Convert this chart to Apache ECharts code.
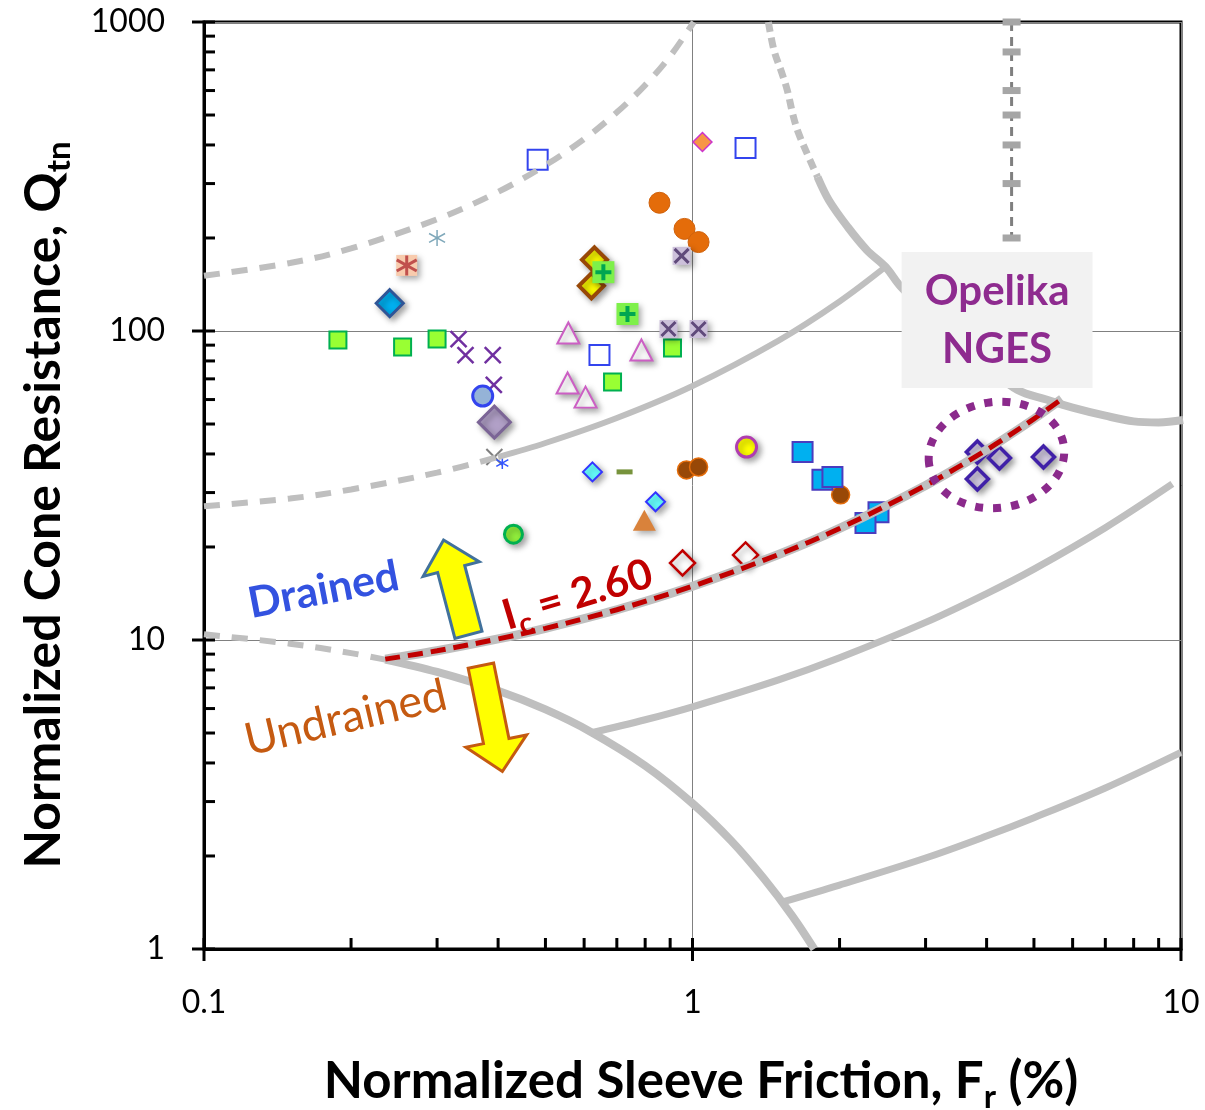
<!DOCTYPE html>
<html>
<head>
<meta charset="utf-8">
<script src="https://cdn.jsdelivr.net/npm/echarts@6/dist/echarts.min.js"></script>
<style>
  html, body { margin: 0; padding: 0; background: #fff; }
  #chart { width: 1205px; height: 1110px; }
</style>
</head>
<body>
<div id="chart"></div>
<script>
// ---- Axis ticks (log scales) ----
const xMajorTicks = [0.1, 1, 10];
const xMinorTicks = [0.2, 0.3, 0.4, 0.5, 0.6, 0.7, 0.8, 0.9, 2, 3, 4, 5, 6, 7, 8, 9];
const yMajorTicks = [1, 10, 100, 1000];
const yMinorTicks = [2, 3, 4, 5, 6, 7, 8, 9, 20, 30, 40, 50, 60, 70, 80, 90,
                     200, 300, 400, 500, 600, 700, 800, 900];

// ---- Soil behaviour type boundaries, [Fr (%), Qtn] ----
const ic131 = [[0.1, 151], [0.15, 166], [0.2, 185], [0.3, 230], [0.4, 282], [0.5, 344],
               [0.6, 418], [0.7, 510], [0.8, 625], [0.9, 775], [1.006, 1000]];
const ic205Dashed = [[0.1, 27.1], [0.15, 28.7], [0.2, 30.7], [0.3, 34.8], [0.4, 39.1]];
const ic205Solid = [[0.4, 39.1], [0.5, 43.4], [0.7, 52.3], [1, 66.4], [1.5, 93.1],
                    [2, 124.6], [2.49, 161.8]];
const zone1Dashed = [[0.1, 10.43], [0.15, 9.73], [0.2, 9.07], [0.235, 8.64]];
const zone1Solid = [[0.235, 8.64], [0.3, 7.88], [0.4, 6.85], [0.5, 5.96], [0.618, 5.05],
                    [0.8, 3.92], [1.0, 2.96], [1.2, 2.24], [1.4, 1.69], [1.6, 1.28], [1.775, 1.0]];
const ic260 = [[0.235, 8.67], [0.3, 9.23], [0.4, 10.08], [0.5, 10.91], [0.7, 12.53], [1, 14.93],
               [1.5, 18.91], [2, 22.97], [3, 31.64], [4, 41.24], [5, 51.95], [5.7, 60.27]];
const ic295 = [[0.618, 5.0], [0.8, 5.52], [1, 6.08], [1.5, 7.43], [2, 8.76], [3, 11.4],
               [4, 14.13], [5, 16.96], [7, 23.09], [9.6, 32.0]];
const ic360 = [[1.53, 1.42], [2, 1.61], [3, 1.97], [4, 2.32], [5, 2.66], [7, 3.32], [10, 4.33]];
const zone8Dashed = [[1.43, 1000], [1.468, 811], [1.521, 689], [1.563, 602], [1.606, 500],
                     [1.648, 437], [1.739, 358], [1.803, 315]];
const zone8Solid = [[1.803, 315], [1.902, 265], [2.079, 217], [2.273, 183], [2.486, 161],
                    [2.67, 139], [3.3, 100], [4.0, 77], [4.63, 64.4], [5.3, 60], [6.0, 56.5],
                    [7.0, 53.2], [8.0, 51.0], [9.0, 50.6], [10.1, 51.5]];
const zone9Divider = [[4.5, 1000], [4.5, 800], [4.5, 600], [4.5, 500], [4.5, 400],
                      [4.5, 300], [4.5, 200]];

// ---- Site data, [Fr (%), Qtn] ----
const tealStar = [[0.30, 200]];
const peachStar = [[0.26, 163]];
const blueDiamondBig = [[0.24, 123]];
const limeSquares = [[0.188, 93.5], [0.255, 88.8], [0.30, 94.2], [0.686, 68.4], [0.91, 88.1]];
const purpleX = [[0.332, 94.2], [0.343, 83.6], [0.39, 83.6], [0.392, 66.9]];
const blueRingCircle = [[0.372, 61.6]];
const mauveDiamond = [[0.393, 50.7]];
const grayX = [[0.393, 39.1]];
const blueStar = [[0.408, 37.4]];
const limeCircle = [[0.43, 22.0]];
const blueOpenSquares = [[0.482, 358], [0.645, 83.6], [1.284, 391]];
const pinkOpenTriangles = [[0.557, 98.5], [0.555, 67.9], [0.604, 61.1], [0.786, 86.8]];
const yellowDiamonds = [[0.63, 170], [0.621, 140]];
const limePlus = [[0.657, 155], [0.736, 113.5]];
const orangeCircles = [[0.856, 260], [0.963, 214], [1.029, 194]];
const lavenderX = [[0.95, 175], [0.893, 101.5], [1.029, 101.5]];
const orangeDiamond = [[1.048, 409]];
const cyanDiamonds = [[0.624, 35.0], [0.84, 28.0]];
const oliveDash = [[0.726, 35.0]];
const orangeTriangle = [[0.797, 24.4]];
const brownCircles = [[0.972, 35.5], [1.029, 36.3], [2.01, 29.5]];
const yellowRingCircle = [[1.29, 42.1]];
const cyanSquares = [[1.68, 40.6], [1.845, 33.0], [1.934, 33.7], [2.403, 25.9], [2.26, 23.9]];
const redOpenDiamonds = [[0.954, 17.75], [1.284, 18.85]];
const opelikaNGES = [[3.83, 40.6], [4.25, 38.8], [5.23, 39.1], [3.83, 33.2]];

// ---- Styling helpers ----
const FONT = 'Lato, "Open Sans", "Noto Sans", sans-serif';
const GRAY = '#bfbfbf';
const SHADOW = { shadowBlur: 6, shadowOffsetX: 3, shadowOffsetY: 3, shadowColor: 'rgba(0,0,0,0.35)' };
const X_PATH = 'path://M0,0L10,10M10,0L0,10';
const STAR_PATH = 'path://M5,0L5,10M0.6,2.2L9.4,7.8M0.6,7.8L9.4,2.2';
const PLUS_PATH = 'path://M5,0L5,10M0,5L10,5';
const CLEAR = 'rgba(0,0,0,0)';

function pts(name, data, symbol, symbolSize, style, shadow) {
  return {
    name, type: 'scatter', data, symbol, symbolSize, silent: true, z: 3,
    itemStyle: Object.assign({ opacity: 1 }, style, shadow ? SHADOW : {})
  };
}
function curve(name, data, color, width, dash, z) {
  return {
    name, type: 'line', data, showSymbol: false, symbol: 'none', smooth: 0.35,
    silent: true, z: z || 4,
    lineStyle: { color, width, type: dash || 'solid', cap: 'butt' }
  };
}
function tickItem(horizontal) {
  return function (params, api) {
    const p = api.coord([api.value(0), api.value(1)]);
    const major = api.value(2) === 1;
    const shape = horizontal
      ? { x1: p[0], y1: p[1] + (major ? 12 : 0), x2: p[0], y2: p[1] - 11 }
      : { x1: p[0] - (major ? 12 : 0), y1: p[1], x2: p[0] + 11, y2: p[1] };
    return { type: 'line', shape, style: { stroke: '#000', lineWidth: 3 } };
  };
}

const chart = echarts.init(document.getElementById('chart'), null, { renderer: 'canvas' });

const option = {
  backgroundColor: '#fff',
  animation: false,
  grid: { left: 204, top: 22, width: 977, height: 927, show: true,
          borderColor: '#000', borderWidth: 3, backgroundColor: 'transparent' },
  xAxis: {
    type: 'log', logBase: 10, min: 0.1, max: 10,
    axisLine: { show: true, onZero: false, lineStyle: { color: '#000', width: 3 } },
    axisTick: { show: false },
    axisLabel: { fontFamily: FONT, fontSize: 32, color: '#000', margin: 38,
                 formatter: v => String(Number(Number(v).toPrecision(3))) },
    splitLine: { show: true, lineStyle: { color: '#808080', width: 1 } }
  },
  yAxis: {
    type: 'log', logBase: 10, min: 1, max: 1000,
    axisLine: { show: true, onZero: false, lineStyle: { color: '#000', width: 3 } },
    axisTick: { show: false },
    axisLabel: { fontFamily: FONT, fontSize: 32, color: '#000', margin: 39,
                 formatter: v => String(Number(Number(v).toPrecision(3))) },
    splitLine: { show: true, lineStyle: { color: '#808080', width: 1 } }
  },
  series: [
    // site data
    pts('tealStar', tealStar, STAR_PATH, 16, { color: CLEAR, borderColor: '#7fa8ba', borderWidth: 1.5 }),
    pts('peachStarBack', peachStar, 'rect', 21, { color: '#f8cbad' }, true),
    pts('peachStar', peachStar, STAR_PATH, 20, { color: CLEAR, borderColor: '#c0504d', borderWidth: 3 }),
    pts('blueDiamondBig', blueDiamondBig, 'diamond', 27, { color: '#00b0f0', borderColor: '#2f5597', borderWidth: 3 }, true),
    pts('limeSquares', limeSquares, 'rect', 17, { color: '#99ff33', borderColor: '#00b050', borderWidth: 2 }),
    pts('purpleX', purpleX, X_PATH, 16, { color: CLEAR, borderColor: '#7030a0', borderWidth: 2.5 }),
    pts('blueRingCircle', blueRingCircle, 'circle', 20, { color: '#95b3d7', borderColor: '#3344ee', borderWidth: 3 }),
    pts('mauveDiamond', mauveDiamond, 'diamond', 32, { color: '#b1a0c7', borderColor: '#7b6496', borderWidth: 3 }, true),
    pts('grayX', grayX, X_PATH, 16, { color: CLEAR, borderColor: '#7f7f7f', borderWidth: 2 }),
    pts('blueStar', blueStar, STAR_PATH, 12, { color: CLEAR, borderColor: '#3355ff', borderWidth: 1.5 }),
    pts('limeCircle', limeCircle, 'circle', 18, { color: '#92f03c', borderColor: '#00b050', borderWidth: 3 }, true),
    pts('blueOpenSquares', blueOpenSquares, 'rect', 20, { color: '#fff', borderColor: '#3344ee', borderWidth: 2 }),
    pts('pinkOpenTriangles', pinkOpenTriangles, 'triangle', [22, 21], { color: '#fff', borderColor: '#cc5fc4', borderWidth: 2 }, true),
    pts('yellowDiamonds', yellowDiamonds, 'diamond', 25, { color: '#ffff00', borderColor: '#984807', borderWidth: 4 }, true),
    pts('limePlusBack', limePlus, 'rect', 22, { color: '#7ef04a' }, true),
    pts('limePlus', limePlus, PLUS_PATH, 16, { color: CLEAR, borderColor: '#00a651', borderWidth: 4 }),
    pts('orangeCircles', orangeCircles, 'circle', 21, { color: '#e46c0a', borderColor: '#d0620c', borderWidth: 1 }),
    pts('lavenderXBack', lavenderX, 'rect', 18, { color: '#ccc0da' }, true),
    pts('lavenderX', lavenderX, X_PATH, 14, { color: CLEAR, borderColor: '#604a7b', borderWidth: 3 }),
    pts('orangeDiamond', orangeDiamond, 'diamond', 19, { color: '#f79646', borderColor: '#cc33cc', borderWidth: 1.5 }),
    pts('cyanDiamonds', cyanDiamonds, 'diamond', 19, { color: '#66ffff', borderColor: '#3333ff', borderWidth: 2 }, true),
    pts('oliveDash', oliveDash, 'rect', [16, 5], { color: '#77933c' }),
    pts('orangeTriangle', orangeTriangle, 'triangle', [23, 21], { color: '#d9823b' }, true),
    pts('brownCircles', brownCircles, 'circle', 18, { color: '#984807', borderColor: '#e46c0a', borderWidth: 1.5 }),
    pts('yellowRingCircle', yellowRingCircle, 'circle', 20, { color: '#ffff00', borderColor: '#b03cb0', borderWidth: 3 }, true),
    pts('cyanSquares', cyanSquares, 'rect', 20, { color: '#00b0f0', borderColor: '#4a3cbf', borderWidth: 2 }),
    pts('redOpenDiamonds', redOpenDiamonds, 'diamond', 25, { color: '#fff', borderColor: '#c00000', borderWidth: 2.5 }, true),
    pts('opelikaNGES', opelikaNGES, 'diamond', 22, { color: '#d4cbe4', borderColor: '#4020a8', borderWidth: 3.5 }, true),

    // boundaries
    curve('ic131', ic131, GRAY, 6, [16, 12]),
    curve('ic205Dashed', ic205Dashed, GRAY, 6, [16, 12]),
    curve('ic205Solid', ic205Solid, GRAY, 6),
    curve('zone1Dashed', zone1Dashed, GRAY, 6, [16, 12]),
    curve('zone1Solid', zone1Solid, GRAY, 8),
    curve('ic260Gray', ic260, GRAY, 9),
    curve('ic295', ic295, GRAY, 7),
    curve('ic360', ic360, GRAY, 7),
    curve('zone8Dashed', zone8Dashed, GRAY, 7, [10, 6]),
    curve('zone8Solid', zone8Solid, GRAY, 8),
    {
      name: 'zone9Divider', type: 'line', data: zone9Divider, silent: true, z: 5,
      symbol: 'rect', symbolSize: [18, 7], showSymbol: true,
      itemStyle: { color: '#a6a6a6', opacity: 1 },
      lineStyle: { color: '#7f7f7f', width: 3, type: [9, 6] }
    },
    curve('ic260', ic260, '#c00000', 5, [15, 8], 6),

    // axis ticks
    {
      type: 'custom', coordinateSystem: 'cartesian2d', silent: true, clip: false, z: 10,
      data: xMajorTicks.map(v => [v, 1, 1]).concat(xMinorTicks.map(v => [v, 1, 0])),
      renderItem: tickItem(true)
    },
    {
      type: 'custom', coordinateSystem: 'cartesian2d', silent: true, clip: false, z: 10,
      data: yMajorTicks.map(v => [0.1, v, 1]).concat(yMinorTicks.map(v => [0.1, v, 0])),
      renderItem: tickItem(false)
    }
  ]
};
chart.setOption(option);

// ---- Annotations, anchored in data space ----
const at = (f, q) => chart.convertToPixel({ xAxisIndex: 0, yAxisIndex: 0 }, [f, q]);
const boxTL = at(2.68, 180), boxBR = at(6.59, 65.4);
const ell = at(4.19, 39.7);
const upA = at(0.328, 14.8), downA = at(0.388, 5.57);
const drainedP = at(0.1757, 14.5), undrainedP = at(0.195, 5.59), icP = at(0.5815, 14.0);

chart.setOption({
  graphic: [
    {
      type: 'rect', z: 20,
      shape: { x: boxTL[0], y: boxTL[1], width: boxBR[0] - boxTL[0], height: boxBR[1] - boxTL[1] },
      style: { fill: '#f2f2f2' }
    },
    {
      type: 'text', z: 21, x: (boxTL[0] + boxBR[0]) / 2, y: (boxTL[1] + boxBR[1]) / 2,
      style: { text: 'Opelika\nNGES', fill: '#8e2b8f', fontFamily: FONT, fontWeight: 'bold',
               fontSize: 42, lineHeight: 58, align: 'center', verticalAlign: 'middle' }
    },
    {
      type: 'ellipse', z: 22, x: ell[0], y: ell[1], rotation: 0.13,
      shape: { cx: 0, cy: 0, rx: 68, ry: 53 },
      style: { fill: 'none', stroke: '#8b2a8c', lineWidth: 8, lineDash: [8, 10] }
    },
    {
      type: 'polygon', z: 20, x: upA[0], y: upA[1], rotation: 0.257,
      shape: { points: [[0, -49], [29, -19], [14, -19], [14, 49], [-14, 49], [-14, -19], [-29, -19]] },
      style: { fill: '#ffff00', stroke: '#41719c', lineWidth: 3 }
    },
    {
      type: 'polygon', z: 20, x: downA[0], y: downA[1], rotation: 0.2,
      shape: { points: [[-13, -54], [13, -54], [13, 23], [31, 23], [0, 54], [-31, 23], [-13, 23]] },
      style: { fill: '#ffff00', stroke: '#c55a11', lineWidth: 3 }
    },
    {
      type: 'text', z: 21, x: drainedP[0], y: drainedP[1], rotation: 0.19,
      style: { text: 'Drained', fill: '#3352e0', fontFamily: FONT, fontWeight: 'bold',
               fontSize: 43, align: 'center', verticalAlign: 'middle' }
    },
    {
      type: 'text', z: 21, x: undrainedP[0], y: undrainedP[1], rotation: 0.23,
      style: { text: 'Undrained', fill: '#c55a11', fontFamily: FONT, fontWeight: 'normal',
               fontSize: 45, align: 'center', verticalAlign: 'middle' }
    },
    {
      type: 'text', z: 21, x: icP[0], y: icP[1], rotation: 0.29,
      style: {
        text: '{m|I}{s|c}{m| = 2.60}', align: 'center', verticalAlign: 'middle',
        rich: {
          m: { fill: '#c00000', fontFamily: FONT, fontWeight: 'bold', fontSize: 42 },
          s: { fill: '#c00000', fontFamily: FONT, fontWeight: 'bold', fontSize: 29, padding: [26, 0, 0, 0] }
        }
      }
    },
    {
      type: 'text', z: 21, x: 701, y: 1082,
      style: {
        text: '{m|Normalized Sleeve Friction, F}{s|r}{m| (%)}', align: 'center', verticalAlign: 'middle',
        rich: {
          m: { fill: '#000', fontFamily: FONT, fontWeight: 'bold', fontSize: 51 },
          s: { fill: '#000', fontFamily: FONT, fontWeight: 'bold', fontSize: 33, padding: [30, 0, 0, 0] }
        }
      }
    },
    {
      type: 'text', z: 21, x: 44, y: 505, rotation: Math.PI / 2,
      style: {
        text: '{m|Normalized Cone Resistance, Q}{s|tn}', align: 'center', verticalAlign: 'middle',
        rich: {
          m: { fill: '#000', fontFamily: FONT, fontWeight: 'bold', fontSize: 50 },
          s: { fill: '#000', fontFamily: FONT, fontWeight: 'bold', fontSize: 33, padding: [30, 0, 0, 0] }
        }
      }
    }
  ]
});
</script>
</body>
</html>
